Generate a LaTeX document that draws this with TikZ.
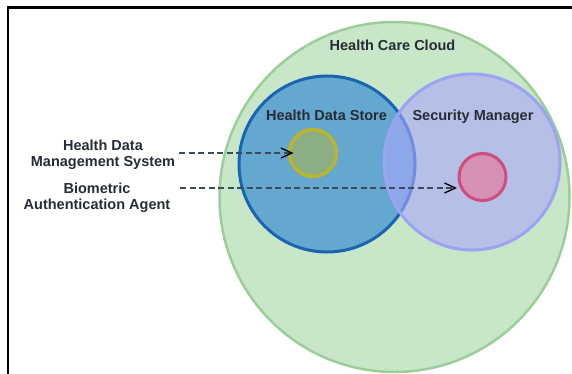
\documentclass[tikz,border=0pt]{standalone}
\usepackage{fontspec}
\setmainfont{Liberation Sans}
\usetikzlibrary{arrows.meta}
\definecolor{cloudfill}{HTML}{C8E6C8}
\definecolor{cloudline}{HTML}{9CCE98}
\definecolor{storefill}{HTML}{64A8D0}
\definecolor{storeline}{HTML}{1A64B4}
\definecolor{secfill}{HTML}{AAA7FA}
\definecolor{secline}{HTML}{9BA4F2}
\definecolor{hdmsfill}{HTML}{B4B43C}
\definecolor{hdmsline}{HTML}{B9B52E}
\definecolor{baafill}{HTML}{D690B4}
\definecolor{baaline}{HTML}{CC4D7E}
\definecolor{txt}{HTML}{262C36}
\definecolor{dashcol}{HTML}{3C4A5A}
\begin{document}
\begin{tikzpicture}[x=1pt,y=-1pt,
  zone/.style={circle,inner sep=0pt,outer sep=0pt},
  lbl/.style={font=\fontsize{14.5}{16}\selectfont\bfseries,text=txt,inner sep=0pt},
  conn/.style={draw=dashcol,line width=1.8pt,dash pattern=on 6pt off 3.5pt,
    -{Straight Barb[length=11pt,width=10pt,line width=1.3pt,black]}}]
\useasboundingbox (0,0) rectangle (572,374);
% frame
\draw[line width=2.5pt] (8,374) -- (8,7.5) -- (572,7.5);
% zones
\node[zone,minimum size=350pt,fill=cloudfill,draw=cloudline,line width=2.5pt] (cloud) at (394.5,197) {};
\node[zone,minimum size=176pt,fill=storefill,draw=storeline,line width=3pt] (store) at (327,164) {};
\node[zone,minimum size=176pt,fill=secfill,fill opacity=0.6,draw=secline,draw opacity=1,line width=3pt] (secmgr) at (472,162) {};
\node[zone,minimum size=47pt,fill=hdmsfill,fill opacity=0.5,draw=hdmsline,draw opacity=1,line width=3.5pt] (hdms) at (313,153) {};
\node[zone,minimum size=47pt,fill=baafill,draw=baaline,line width=3pt] (baa) at (482.5,177) {};
% labels
\node[lbl,anchor=base] (tcloud) at (392.5,51) {Health Care Cloud};
\node[lbl,anchor=base] (tstore) at (326.5,121) {Health Data Store};
\node[lbl,anchor=base] (tsec) at (473,121) {Security Manager};
\node[lbl,align=center] (lhdms) at (103,155) {Health Data\\Management System};
\node[lbl,align=center] (lbaa) at (97,197.5) {Biometric\\Authentication Agent};
% connectors
\coordinate (s1) at (179,153);
\coordinate (s2) at (180,188);
\draw[conn,shorten >=-4pt] (s1) -- (hdms.west);
\draw[conn,shorten >=2pt] (s2) -- (s2 -| baa.west);
\end{tikzpicture}
\end{document}
